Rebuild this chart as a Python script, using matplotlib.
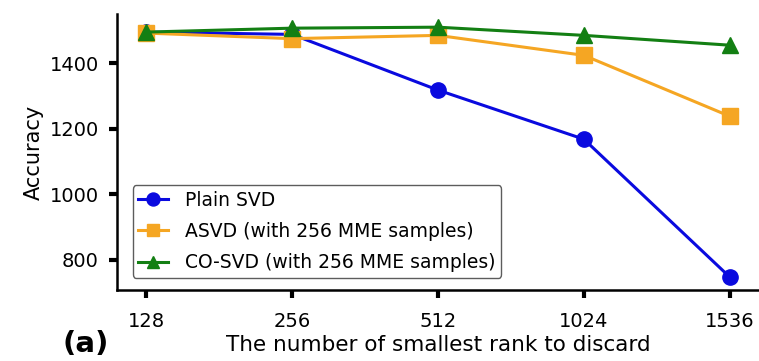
import matplotlib
matplotlib.use("Agg")
import matplotlib.pyplot as plt

ranks = ["128", "256", "512", "1024", "1536"]
plain_svd = [1495, 1488, 1318, 1168, 747]
asvd = [1492, 1475, 1485, 1424, 1238]
co_svd = [1495, 1507, 1510, 1485, 1455]

plt.rcParams['font.family'] = ['DejaVu Sans']

fig = plt.figure(figsize=(7.59, 3.61), dpi=100)
ax = fig.add_axes([0.154, 0.197, 0.846, 0.764])

x = range(len(ranks))
ax.plot(x, plain_svd, '-o', color='#0a0adf', lw=2.2, ms=11, label='Plain SVD')
ax.plot(x, asvd, '-s', color='#f5a623', lw=2.2, ms=11, label='ASVD (with 256 MME samples)')
ax.plot(x, co_svd, '-^', color='#137f13', lw=2.2, ms=11, label='CO-SVD (with 256 MME samples)')

ax.set_xticks(list(x))
ax.set_xticklabels(ranks)
ax.set_yticks([800, 1000, 1200, 1400])
ax.set_xlim(-0.2, 4.2)
ax.set_ylim(708, 1550)
ax.spines['top'].set_visible(False)
ax.spines['right'].set_visible(False)
ax.spines['left'].set_linewidth(1.8)
ax.spines['bottom'].set_linewidth(1.8)
ax.tick_params(axis='both', length=6, width=3, labelsize=14, pad=7)
ax.tick_params(axis='x', pad=10)

ax.set_xlabel('The number of smallest rank to discard', fontsize=15.5, labelpad=3)
ax.set_ylabel('Accuracy', fontsize=15)

ax.legend(loc='lower left', fontsize=13.5, frameon=True, edgecolor='#333333',
          fancybox=True, handlelength=1.6, handletextpad=0.9, borderpad=0.3,
          labelspacing=0.65, markerscale=0.85, bbox_to_anchor=(0.01, 0.01))

fig.text(0.083, 0.025, '(a)', fontsize=21, fontweight='bold')

fig.savefig('out.png', dpi=100)
